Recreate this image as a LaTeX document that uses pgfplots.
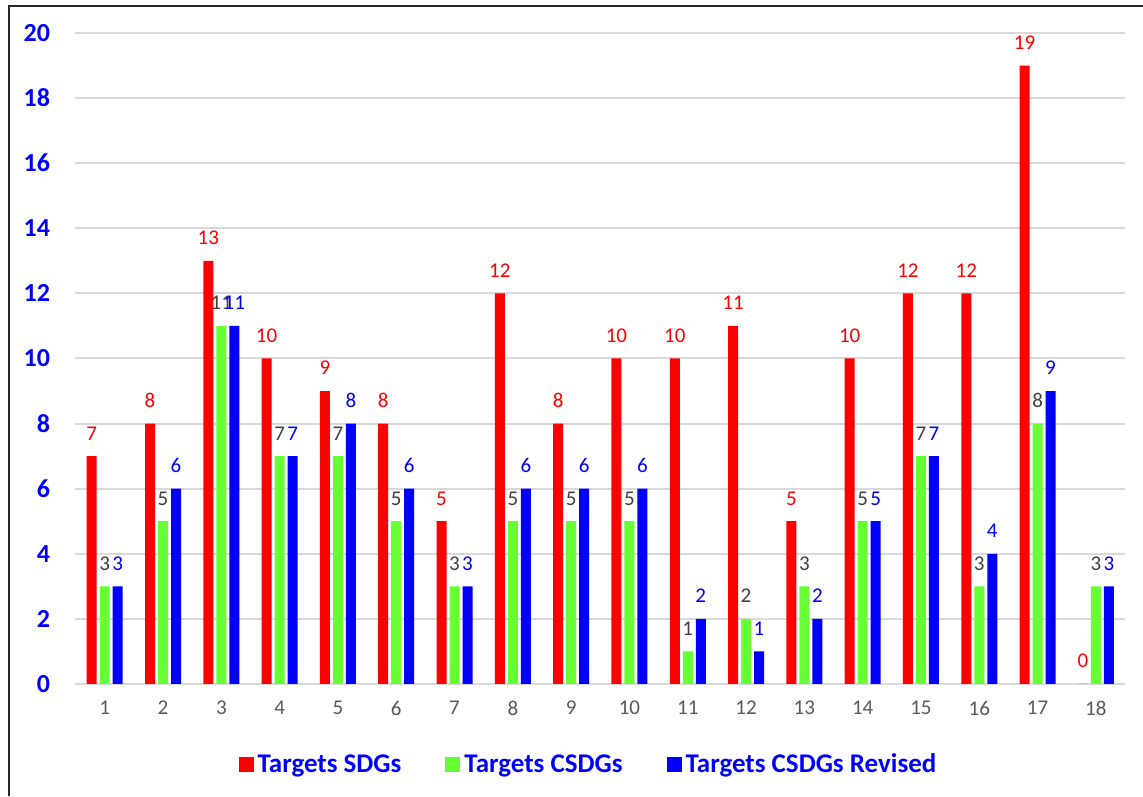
\documentclass[border=0pt]{standalone}
\usepackage{pgfplots}
\pgfplotsset{compat=1.18}
\usepackage{fontspec}
\setmainfont{Carlito}
\definecolor{cred}{HTML}{FF0000}
\definecolor{cgreen}{HTML}{66FF33}
\definecolor{cblue}{HTML}{0000FF}
\definecolor{cgrid}{HTML}{D9D9D9}
\definecolor{clab}{HTML}{404040}
\definecolor{cxtick}{HTML}{595959}
\begin{document}
\begin{tikzpicture}
\useasboundingbox (0,0) rectangle (571.5pt,398pt);
\begin{axis}[
  at={(37.5pt,56pt)}, anchor=south west,
  scale only axis, width=525pt, height=325.5pt,
  xmin=0.49, xmax=18.5, ymin=0, ymax=20,
  xtick={1,...,18}, ytick={0,2,...,20},
  axis line style={draw=none},
  major tick length=0pt,
  ymajorgrids, grid style={cgrid, line width=1pt},
  extra y ticks={0}, extra y tick labels={}, extra y tick style={grid style={cgrid,line width=1.2pt}},
  /pgf/number format/assume math mode=true,
  yticklabel style={font=\fontsize{13}{15}\selectfont\bfseries, text=cblue, xshift=-9pt},
  xticklabel style={font=\fontsize{10.5}{12}\selectfont, text=cxtick, yshift=-5pt},
  ybar, bar width=5pt,
  nodes near coords,
  every node near coord/.append style={font=\fontsize{10.5}{12}\selectfont, yshift=4.5pt},
  legend style={at={(0.49,-0.124)}, anchor=center, draw=none, fill=none,
    font=\fontsize{13.5}{15}\selectfont\bfseries, text=cblue,
    /tikz/every even column/.append style={column sep=20pt}},
  legend columns=3,
  legend image code/.code={\fill[#1] (0pt,-3.7pt) rectangle (7.5pt,3.7pt);},
]
\addplot[fill=cred, draw=none, bar shift=-6.5pt, every node near coord/.append style={text=cred}] coordinates {
(1,7) (2,8) (3,13) (4,10) (5,9) (6,8) (7,5) (8,12) (9,8) (10,10) (11,10) (12,11) (13,5) (14,10) (15,12) (16,12) (17,19) (18,0)};
\addplot[fill=cgreen, draw=none, bar shift=0pt, every node near coord/.append style={text=clab}] coordinates {
(1,3) (2,5) (3,11) (4,7) (5,7) (6,5) (7,3) (8,5) (9,5) (10,5) (11,1) (12,2) (13,3) (14,5) (15,7) (16,3) (17,8) (18,3)};
\addplot[fill=cblue, draw=none, bar shift=6.5pt, every node near coord/.append style={text=cblue}] coordinates {
(1,3) (2,6) (3,11) (4,7) (5,8) (6,6) (7,3) (8,6) (9,6) (10,6) (11,2) (12,1) (13,2) (14,5) (15,7) (16,4) (17,9) (18,3)};
\legend{Targets SDGs, Targets CSDGs, Targets CSDGs Revised}
\end{axis}
\draw[line width=1pt, black!85] (4.5pt,0) -- (4.5pt,395pt) -- (571.5pt,395pt);
\end{tikzpicture}
\end{document}
